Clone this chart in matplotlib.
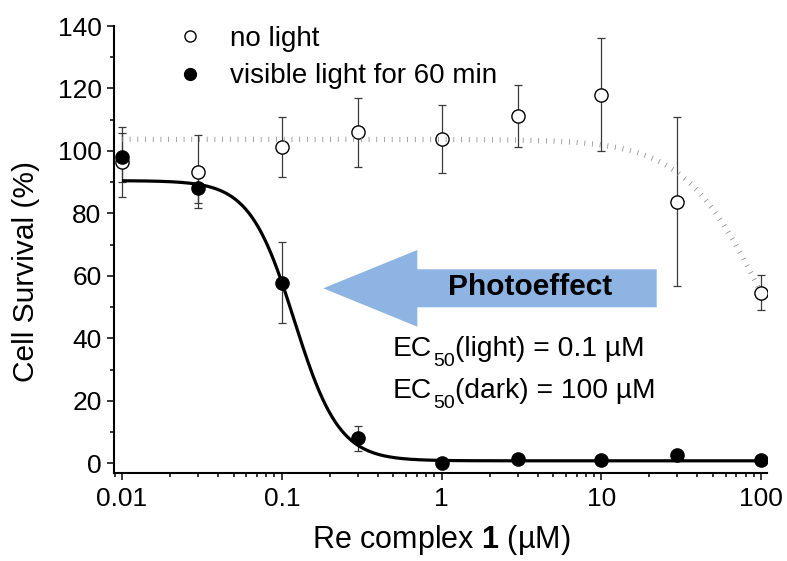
import numpy as np
import matplotlib
matplotlib.use("Agg")
import matplotlib.pyplot as plt
from matplotlib.patches import Polygon
from matplotlib.transforms import offset_copy
from matplotlib.ticker import LogLocator, MultipleLocator, FixedLocator, FixedFormatter, NullFormatter

plt.rcParams['font.family'] = ['Liberation Sans', 'DejaVu Sans']
plt.rcParams['mathtext.fontset'] = 'custom'
plt.rcParams['mathtext.rm'] = 'Liberation Sans'
plt.rcParams['mathtext.it'] = 'Liberation Sans:italic'
plt.rcParams['mathtext.bf'] = 'Liberation Sans:bold'
plt.rcParams['lines.scale_dashes'] = False

# ---- data ----
conc = [0.01, 0.03, 0.1, 0.3, 1, 3, 10, 30, 100]
dark_mean = [96.5, 93.4, 101.4, 106.0, 103.8, 111.2, 118.0, 83.8, 54.6]
dark_err = [11.3, 11.7, 9.6, 11.0, 10.8, 9.8, 18.0, 27.0, 5.6]
light_mean = [98.0, 88.0, 57.8, 8.1, 0.1, 1.5, 1.2, 2.6, 1.0]
light_err = [7.8, 4.7, 13.0, 4.0, 0.0, 0.0, 0.0, 0.0, 0.0]

# dose-response fit parameters (top, bottom, midpoint, Hill slope)
light_fit = dict(top=90.5, bottom=0.8, x0=0.12, h=3.1)
dark_fit = dict(top=103.7, bottom=0.0, x0=106.4, h=1.71)

x_ticks = [0.01, 0.1, 1, 10, 100]
x_ticklabels = ['0.01', '0.1', '1', '10', '100']
y_ticks = [0, 20, 40, 60, 80, 100, 120, 140]

legend_labels = ['no light', 'visible light for 60 min']
ec_lines = [('(light) = 0.1 µM'), ('(dark) = 100 µM')]


def logistic(x, top, bottom, x0, h):
    return bottom + (top - bottom) / (1 + (x / x0) ** h)


W, H = 787, 561
fig = plt.figure(figsize=(W / 100, H / 100), dpi=100)
L, R, T, B = 114, 767, 26, 473
ax = fig.add_axes([L / W, (H - B) / H, (R - L) / W, (B - T) / H])

xf = np.logspace(np.log10(conc[0]), np.log10(conc[-1]), 400)

# error bars
ax.errorbar(conc, dark_mean, yerr=dark_err, fmt='none', ecolor='#3a3a3a',
            elinewidth=0.9, capsize=3, capthick=0.9, zorder=2)
ax.errorbar(conc, light_mean, yerr=[e if e > 0 else np.nan for e in light_err],
            fmt='none', ecolor='#3a3a3a', elinewidth=0.9, capsize=3,
            capthick=0.9, zorder=2)

# fits
ax.plot(xf, logistic(xf, **light_fit), color='black', lw=2.3, zorder=3,
        solid_capstyle='butt')

# markers
h_open, = ax.plot(conc, dark_mean, 'o', ms=9.5, mfc='white', mec='black',
                  mew=1.0, zorder=4, label=legend_labels[0])
dark_line, = ax.plot(xf, logistic(xf, **dark_fit), color='#8a8a8a', lw=3.8,
                     zorder=5)
dark_line.set_dashes((0.55, 5.0))
dark_line.set_dash_capstyle('butt')
h_fill, = ax.plot(conc, light_mean, 'o', ms=9.5, mfc='black', mec='black',
                  zorder=6, label=legend_labels[1])

ax.set_xscale('log')
ax.set_xlim(0.00891, 109)
ax.set_ylim(-3.1, 140)

ax.xaxis.set_major_locator(FixedLocator(x_ticks))
ax.xaxis.set_major_formatter(FixedFormatter(x_ticklabels))
ax.xaxis.set_minor_locator(LogLocator(base=10, subs=np.arange(2, 10)))
ax.xaxis.set_minor_formatter(NullFormatter())
ax.yaxis.set_major_locator(FixedLocator(y_ticks))
ax.yaxis.set_minor_locator(MultipleLocator(10))

for s in ['top', 'right']:
    ax.spines[s].set_visible(False)
for s in ['left', 'bottom']:
    ax.spines[s].set_linewidth(1.5)
ax.spines['left'].set_bounds(-3.1, 140)

ax.tick_params(which='major', direction='out', length=5, width=1.1,
               labelsize=19, pad=4.0, colors='black')
ax.tick_params(which='minor', direction='out', length=3, width=1.1)
ax.tick_params(axis='x', which='major', pad=5)

# axis labels
fig.text(26 / W, 1 - 271 / H, 'Cell Survival (%)', rotation=90, fontsize=21.5,
         ha='center', va='center')
fig.text(441 / W, 1 - 540 / H, r'Re complex $\mathbf{1}$ (µM)', fontsize=22,
         ha='center', va='center')

# legend
leg = ax.legend(handles=[h_open, h_fill], loc='upper left',
                bbox_to_anchor=((172 - L) / (R - L), 1 + 6 / (B - T)),
                frameon=False, fontsize=20, handlelength=0.9,
                handletextpad=1.0, labelspacing=0.42, borderpad=0.2,
                borderaxespad=0)
leg.legend_handles[0].set_markersize(8)
leg.legend_handles[1].set_markersize(8.5)


def px(xp, yp):
    return ((xp - L) / (R - L), (B - yp) / (B - T))


arrow_px = [(323.3, 288.3), (417.3, 250), (417.3, 269.3), (656.7, 269.3),
            (656.7, 307.3), (417.3, 307.3), (417.3, 326.7)]
ax.add_patch(Polygon([px(*p) for p in arrow_px], closed=True,
                     transform=ax.transAxes, facecolor='#8EB4E3',
                     edgecolor='none', zorder=1))
ax.text(*px(530, 287), 'Photoeffect', transform=ax.transAxes, fontsize=21.5,
        fontweight='bold', ha='center', va='center', zorder=7)

# EC50 annotations with a deep subscript
renderer = fig.canvas.get_renderer()
for base_y, rest in zip([356, 398], ec_lines):
    t1 = ax.text(*px(393, base_y), 'EC', transform=ax.transAxes,
                 fontsize=20.3, ha='left', va='baseline', zorder=7)
    w1 = t1.get_window_extent(renderer).width
    t2 = ax.text(*px(393, base_y), '50',
                 transform=offset_copy(ax.transAxes, fig=fig, x=w1 * 0.72 + 0.5,
                                       y=-10.5 * 0.72, units='points'),
                 fontsize=14, ha='left', va='baseline', zorder=7)
    w2 = t2.get_window_extent(renderer).width
    ax.text(*px(393, base_y), rest,
            transform=offset_copy(ax.transAxes, fig=fig,
                                  x=(w1 + w2) * 0.72 + 0.5, y=0,
                                  units='points'),
            fontsize=20.3, ha='left', va='baseline', zorder=7)

fig.savefig('out.png', dpi=100)
